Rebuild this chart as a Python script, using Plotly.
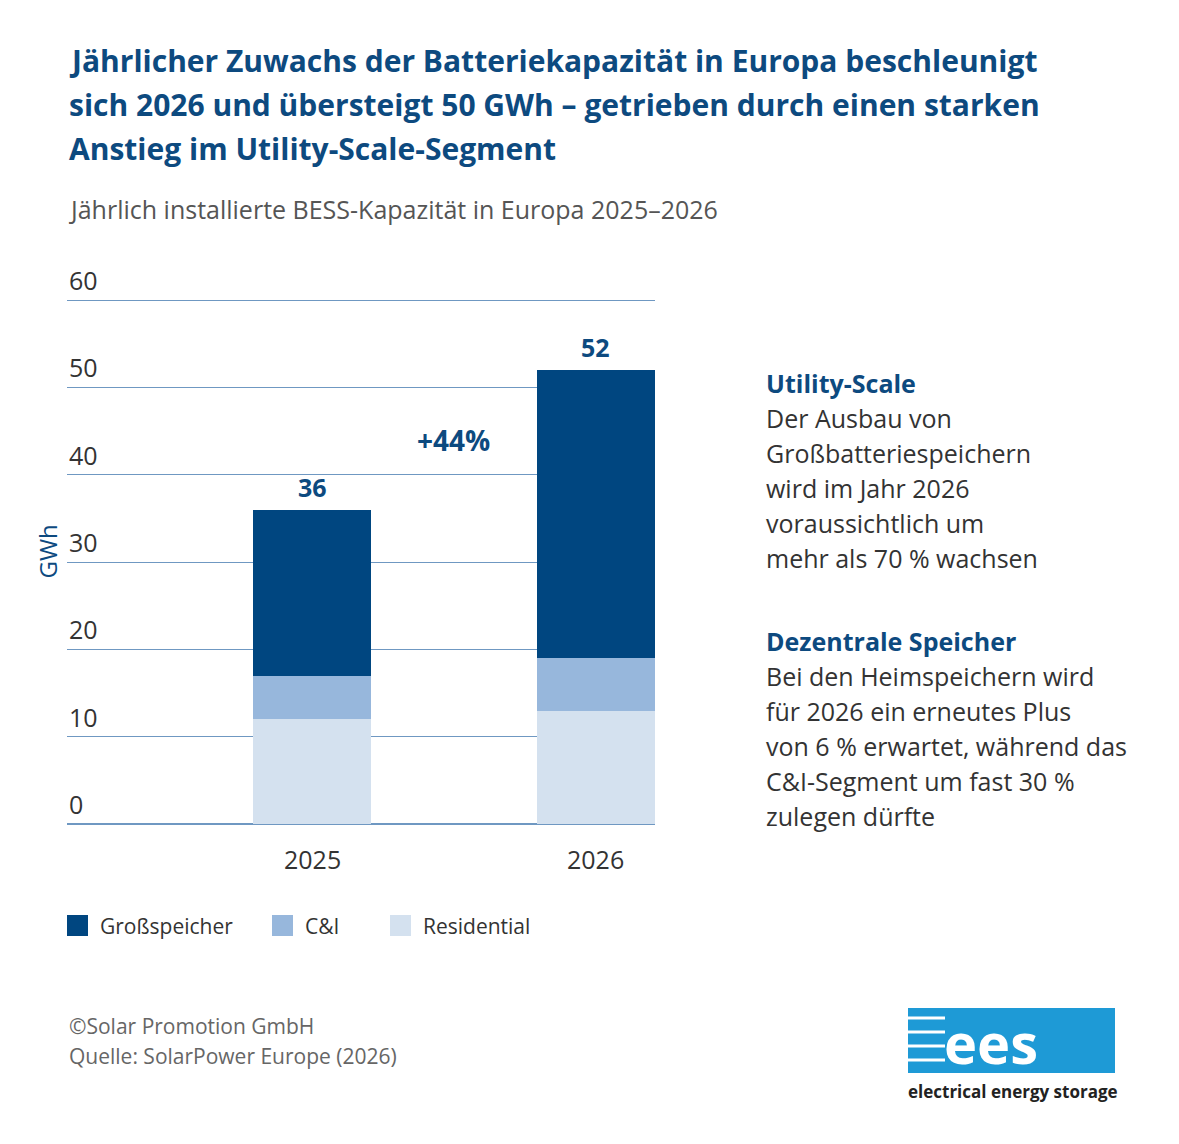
import plotly.graph_objects as go

years = ["2025", "2026"]
x_pos = [0, 1]
residential = [12, 13]
ci = [5, 6]
gross = [19, 33]
totals = [36, 52]
tick_vals = [0, 10, 20, 30, 40, 50, 60]

DARK = "#004680"
MID = "#97b7dc"
LIGHT = "#d4e1ef"
TITLE = "#0d4a7f"
FONT = "Open Sans"

W, H = 1179, 1144
OX, OY = 8, 10  # page offset
PL, PR, PT, PB = 67 - OX, 655 - OX, 302 - OY, 826 - OY

fig = go.Figure()
for name, vals, col in [("Residential", residential, LIGHT), ("C&I", ci, MID), ("Großspeicher", gross, DARK)]:
    fig.add_trace(go.Bar(x=x_pos, y=vals, name=name, marker=dict(color=col, line=dict(width=0)),
                         width=0.415, showlegend=False))

for xp, t in zip(x_pos, totals):
    fig.add_annotation(x=xp, y=t, text=f"<b>{t}</b>", showarrow=False, yanchor="bottom", yshift=4,
                       font=dict(size=25, color=TITLE))
fig.add_annotation(x=0.5, y=44, text="<b>+44%</b>", showarrow=False, font=dict(size=28, color=TITLE))

for xp, yr in zip(x_pos, years):
    fig.add_annotation(x=xp, y=0, text=yr, showarrow=False, yanchor="top", yshift=-16,
                       font=dict(size=25, color="#333"))

# the top tick label gets clipped, so draw the ticks as annotations
for v in tick_vals:
    fig.add_annotation(xref="paper", x=0, y=v, text=str(v), showarrow=False, xanchor="left",
                       yanchor="bottom", yshift=1, font=dict(size=25, color="#333"))

fig.update_layout(
    width=W, height=H, plot_bgcolor="white", paper_bgcolor="white",
    barmode="stack", bargap=0,
    margin=dict(l=PL, r=W - PR, t=PT - 2, b=H - PB),
    font=dict(family=FONT, color="#333"),
    xaxis=dict(range=[-0.863, 1.208], visible=False),
    yaxis=dict(range=[0, 60.25], tickvals=tick_vals, showticklabels=False,
               gridcolor="#6f98c2", gridwidth=1, zeroline=True, zerolinecolor="#6f98c2",
               zerolinewidth=1.5, showline=False),
)

def px(x):
    return (x - OX - PL) / (PR - PL)

def py(y):
    return (PB - (y - OY)) / (PB - PT + 2)

def txt(x, y, text, size, color, **kw):
    fig.add_annotation(xref="paper", yref="paper", x=px(x), y=py(y),
                       text=text, showarrow=False, xanchor="left", yanchor="top", align="left",
                       font=dict(size=size, color=color, family=FONT), **kw)

def lines(x, y, items, size, color, step):
    for i, s in enumerate(items):
        txt(x, y + i * step, s, size, color)

lines(67, 40, ["<b>Jährlicher Zuwachs der Batteriekapazität in Europa beschleunigt</b>",
               "<b>sich 2026 und übersteigt 50 GWh – getrieben durch einen starken</b>",
               "<b>Anstieg im Utility-Scale-Segment</b>"], 30, TITLE, 44)
txt(67, 192, "Jährlich installierte BESS-Kapazität in Europa 2025–2026", 25, "#555")
txt(764, 366, "<b>Utility-Scale</b>", 25, TITLE)
lines(764, 401, ["Der Ausbau von", "Großbatteriespeichern", "wird im Jahr 2026",
                 "voraussichtlich um", "mehr als 70 % wachsen"], 25, "#333", 35)
txt(764, 624, "<b>Dezentrale Speicher</b>", 25, TITLE)
lines(764, 659, ["Bei den Heimspeichern wird", "für 2026 ein erneutes Plus", "von 6 % erwartet, während das",
                 "C&I-Segment um fast 30 %", "zulegen dürfte"], 25, "#333", 35)
lines(67, 1012, ["©Solar Promotion GmbH", "Quelle: SolarPower Europe (2026)"], 21, "#666", 30)
txt(28, 525, "GWh", 24, TITLE, textangle=-90)

for x0, name, col in [(67, "Großspeicher", DARK), (272, "C&I", MID), (390, "Residential", LIGHT)]:
    fig.add_shape(type="rect", xref="paper", yref="paper",
                  x0=px(x0), x1=px(x0 + 21), y0=py(938), y1=py(917),
                  fillcolor=col, line=dict(width=0))
    txt(x0 + 31, 912, name, 21, "#333")

fig.add_shape(type="rect", xref="paper", yref="paper", x0=px(908), x1=px(1115), y0=py(1075), y1=py(1010),
              fillcolor="#1e9ad6", line=dict(width=0))
for yy in [1020, 1034, 1048, 1062]:
    fig.add_shape(type="line", xref="paper", yref="paper", x0=px(908), x1=px(945), y0=py(yy), y1=py(yy),
                  line=dict(color="white", width=3))
txt(942, 1004, "<b>ees</b>", 56, "white")
txt(906, 1080, "<b>electrical energy storage</b>", 17, "#222")

fig.write_html("out.html")
